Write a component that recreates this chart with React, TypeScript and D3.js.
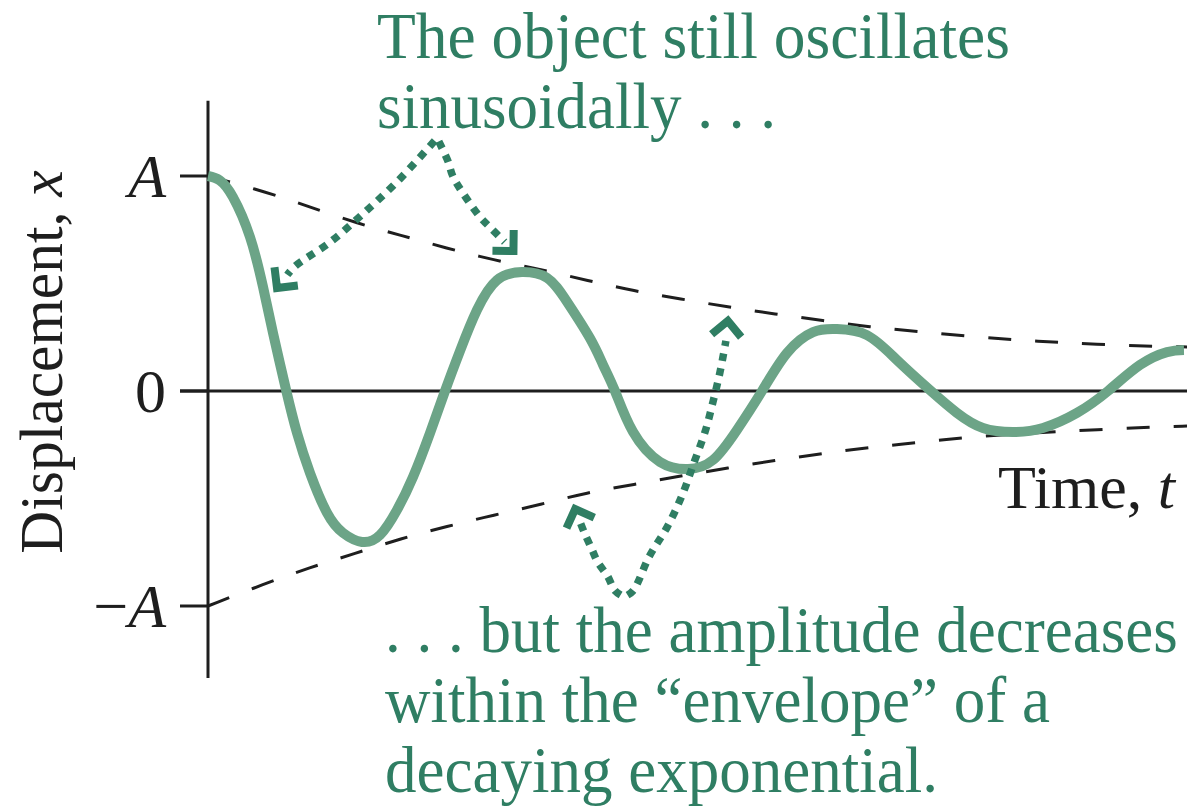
import React from 'react';
import * as d3 from 'd3';

// ---- data (time in arbitrary units 0..10, displacement in units of A) ----
const curveT = [0, 0.12, 0.255, 0.429, 0.562, 0.664, 0.8, 0.909, 1.042, 1.216, 1.379, 1.573, 1.757, 1.931, 2.094, 2.268, 2.421, 2.574, 2.748, 2.952, 3.207, 3.463, 3.667, 3.902, 4.035, 4.157, 4.341, 4.617, 4.903, 5.158, 5.403, 5.659, 5.914, 6.18, 6.425, 6.731, 7.038, 7.385, 7.651, 7.916, 8.223, 8.529, 8.876, 9.193, 9.52, 9.796, 9.969];
const curveX = [1.0, 0.98, 0.902, 0.716, 0.484, 0.27, 0.0, -0.195, -0.381, -0.567, -0.66, -0.702, -0.67, -0.553, -0.4, -0.195, 0.0, 0.186, 0.377, 0.516, 0.553, 0.526, 0.415, 0.245, 0.122, 0.0, -0.19, -0.33, -0.363, -0.321, -0.181, 0.0, 0.177, 0.274, 0.288, 0.26, 0.144, 0.0, -0.102, -0.172, -0.191, -0.172, -0.102, 0.0, 0.121, 0.181, 0.191];

const upperT = [0, 0.58, 1.04, 1.53, 1.98, 2.43, 2.92, 3.4, 3.88, 4.35, 4.83, 5.31, 5.79, 6.28, 6.76, 7.25, 7.74, 8.24, 8.71, 9.21, 9.7, 10];
const upperA = [1.0, 0.928, 0.856, 0.779, 0.723, 0.665, 0.609, 0.565, 0.514, 0.465, 0.428, 0.391, 0.358, 0.328, 0.297, 0.277, 0.256, 0.237, 0.226, 0.214, 0.207, 0.205];

const lowerT = [0, 0.57, 1.04, 1.5, 1.97, 2.44, 2.92, 3.4, 3.87, 4.35, 4.83, 5.31, 5.79, 6.27, 6.75, 7.25, 7.74, 8.24, 8.71, 9.21, 9.7, 10];
const lowerA = [-1.0, -0.898, -0.821, -0.756, -0.686, -0.63, -0.577, -0.528, -0.472, -0.435, -0.395, -0.358, -0.323, -0.291, -0.263, -0.24, -0.216, -0.2, -0.188, -0.177, -0.167, -0.163];

const yTicks = [1, 0, -1];
const yTickLabels = ['A', '0', 'A'];
const yTickPrefix = ['', '', '\u2212'];
const yTickItalic = [true, false, true];

// annotation arrows (data units), each branch starts at apex and ends at the tip
const arrowTopLeftT = [2.34, 1.94, 1.58, 1.25, 0.89, 0.81];
const arrowTopLeftX = [1.177, 0.977, 0.823, 0.693, 0.581, 0.54];
const arrowTopLeftTip = [0.705, 0.479];
const arrowTopRightT = [2.34, 2.45, 2.5, 2.59, 2.78, 2.9, 3.03];
const arrowTopRightX = [1.177, 1.07, 1.0, 0.93, 0.809, 0.753, 0.693];
const arrowTopRightTip = [3.12, 0.651];
const arrowBotLeftT = [4.25, 4.16, 4.08, 3.98, 3.92, 3.85, 3.8];
const arrowBotLeftX = [-0.958, -0.93, -0.86, -0.795, -0.735, -0.665, -0.609];
const arrowBotLeftTip = [3.75, -0.549];
const arrowBotRightT = [4.25, 4.34, 4.51, 4.69, 4.84, 4.97, 5.08, 5.16, 5.23, 5.29];
const arrowBotRightX = [-0.958, -0.93, -0.767, -0.633, -0.488, -0.326, -0.186, -0.047, 0.088, 0.233];
const arrowBotRightTip = [5.31, 0.326];

const topNote = ['The object still oscillates', 'sinusoidally . . .'];
const bottomNote = ['. . . but the amplitude decreases', 'within the \u201Cenvelope\u201D of a', 'decaying exponential.'];

const GREEN_CURVE = '#6ca487';
const GREEN_TEXT = '#2f7e63';
const INK = '#1e1e1e';
const FONT = '"Liberation Serif", "DejaVu Serif", "Times New Roman", serif';

export default function App() {
  const x = d3.scaleLinear().domain([0, 10]).range([208, 1187]);
  const y = d3.scaleLinear().domain([-1, 1]).range([606, 176]);

  const mk = (ts: number[], vs: number[]) => ts.map((t, i) => [t, vs[i]] as [number, number]);
  const lineNatural = d3.line<[number, number]>().x(d => x(d[0])).y(d => y(d[1])).curve(d3.curveNatural);
  const lineArrow = d3.line<[number, number]>().x(d => x(d[0])).y(d => y(d[1])).curve(d3.curveCatmullRom.alpha(0.5));
  const lineBasis = d3.line<[number, number]>().x(d => x(d[0])).y(d => y(d[1])).curve(d3.curveBasis);

  const curvePath = lineNatural(mk(curveT, curveX)) || '';
  const upperPath = lineBasis(mk(upperT, upperA)) || '';
  const lowerPath = lineBasis(mk(lowerT, lowerA)) || '';

  const chevron = (prev: [number, number], tip: number[]) => {
    const px = x(prev[0]), py = y(prev[1]);
    const tx = x(tip[0]), ty = y(tip[1]);
    const dx = tx - px, dy = ty - py;
    const len = Math.hypot(dx, dy);
    const ux = dx / len, uy = dy / len;
    const L = 21;
    const c = Math.SQRT1_2;
    const r1 = [ux * c - uy * c, ux * c + uy * c];
    const r2 = [ux * c + uy * c, -ux * c + uy * c];
    const a1 = [tx - L * r1[0], ty - L * r1[1]];
    const a2 = [tx - L * r2[0], ty - L * r2[1]];
    return `M${a1[0]},${a1[1]}L${tx},${ty}L${a2[0]},${a2[1]}`;
  };

  const arrows = [
    { t: arrowTopLeftT, v: arrowTopLeftX, tip: arrowTopLeftTip },
    { t: arrowTopRightT, v: arrowTopRightX, tip: arrowTopRightTip },
    { t: arrowBotLeftT, v: arrowBotLeftX, tip: arrowBotLeftTip },
    { t: arrowBotRightT, v: arrowBotRightX, tip: arrowBotRightTip },
  ];

  const yAxisTop = 1.35;
  const yAxisBottom = -1.335;
  const tf = { fontFamily: FONT };

  const noteLines = [
    { text: topNote[0], x0: 377, y0: 58, sx: 0.962 },
    { text: topNote[1], x0: 377, y0: 128, sx: 0.955 },
    { text: bottomNote[0], x0: 385, y0: 652, sx: 0.955 },
    { text: bottomNote[1], x0: 385, y0: 722, sx: 0.955 },
    { text: bottomNote[2], x0: 385, y0: 792, sx: 0.955 },
  ];

  return (
    <svg width={1187} height={807} style={{ position: 'absolute', left: 0, top: 0, background: '#fff', fontFamily: FONT }}>
      {/* axes */}
      <line x1={x(0)} x2={x(0)} y1={y(yAxisTop)} y2={y(yAxisBottom)} stroke={INK} strokeWidth={3} />
      <line x1={x(0) - 28} x2={x(10)} y1={y(0)} y2={y(0)} stroke={INK} strokeWidth={3} />
      {yTicks.map((v, i) => (
        <g key={i}>
          <line x1={x(0) - 28} x2={x(0)} y1={y(v)} y2={y(v)} stroke={INK} strokeWidth={3} />
          <text x={x(0) - 42} y={y(v) + 21} textAnchor="end" fontSize={62} fill={INK} style={tf}>
            {yTickPrefix[i] ? <tspan>{yTickPrefix[i]}</tspan> : null}
            <tspan fontStyle={yTickItalic[i] ? 'italic' : 'normal'}>{yTickLabels[i]}</tspan>
          </text>
        </g>
      ))}

      {/* envelope */}
      <path d={upperPath} fill="none" stroke={INK} strokeWidth={3} strokeDasharray="23 24" />
      <path d={lowerPath} fill="none" stroke={INK} strokeWidth={3} strokeDasharray="23 24" />

      {/* damped oscillation */}
      <path d={curvePath} fill="none" stroke={GREEN_CURVE} strokeWidth={10} />

      {/* annotation arrows */}
      {arrows.map((a, i) => {
        const pts = mk(a.t, a.v);
        const d = lineArrow(pts) || '';
        return (
          <g key={i}>
            <path d={d} fill="none" stroke={GREEN_TEXT} strokeWidth={7.5} strokeDasharray="7.5 7.5" strokeDashoffset={-4} />
            <path d={chevron(pts[pts.length - 1], a.tip)} fill="none" stroke={GREEN_TEXT} strokeWidth={8} strokeLinejoin="miter" />
          </g>
        );
      })}

      {/* axis titles */}
      <text x={998} y={508} fontSize={62} fill={INK} style={tf}>
        Time, <tspan fontStyle="italic">t</tspan>
      </text>
      <text transform="translate(62,362) rotate(-90) scale(0.96,1)" textAnchor="middle" fontSize={62} fill={INK} style={tf}>
        Displacement, <tspan fontStyle="italic">x</tspan>
      </text>

      {/* annotations */}
      {noteLines.map((n, i) => (
        <text key={i} transform={`translate(${n.x0},${n.y0}) scale(${n.sx},1)`} fontSize={66} fill={GREEN_TEXT} style={tf}>
          {n.text}
        </text>
      ))}
    </svg>
  );
}
